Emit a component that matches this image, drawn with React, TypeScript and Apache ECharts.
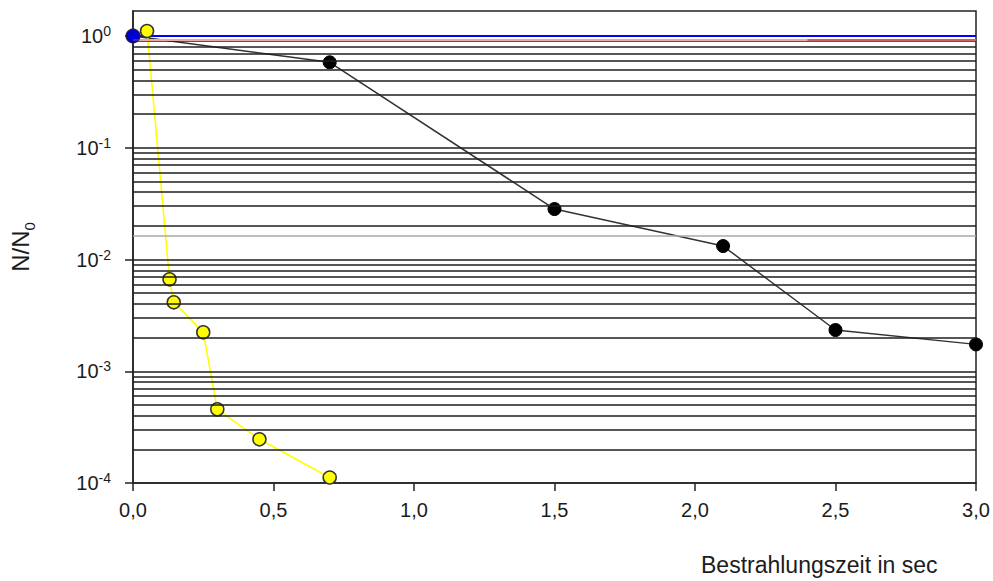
import React, { useEffect, useRef } from "react";
import * as echarts from "echarts";

// ---- data ----
const blackX = [0, 0.7, 1.5, 2.1, 2.5, 3.0];
const blackY = [1, 0.582, 0.0283, 0.0132, 0.00234, 0.00174];

const yellowX = [0.05, 0.13, 0.145, 0.25, 0.3, 0.45, 0.7];
const yellowY = [1.11, 0.00665, 0.00414, 0.00223, 0.000456, 0.000246, 0.000112];

const blueX = [0, 3.0];
const blueY = [1, 1];

const xTickValues = [0, 0.5, 1.0, 1.5, 2.0, 2.5, 3.0];
const yTickValues = [1e-4, 1e-3, 1e-2, 1e-1, 1];
const gridDecades = [-4, -3, -2, -1];
const gridMantissas = [1, 2, 3, 4, 5, 6, 7, 8, 9];
const redLineValue = 0.935;
const grayLineValue = 0.0162;

const FONT = '"Liberation Sans", Arial, sans-serif';
const TXT = "#1c1c1c";

export default function App() {
  const ref = useRef<HTMLDivElement>(null);
  useEffect(() => {
    const chart = echarts.init(ref.current!, null, { renderer: "svg" });

    const gridValues: number[] = [];
    gridDecades.forEach((d) =>
      gridMantissas.forEach((m) => {
        const v = m * Math.pow(10, d);
        if (Math.abs(v - 1e-4) > 1e-9) gridValues.push(v);
      })
    );

    const hLine = (v: number, style?: any) => [
      { coord: [0, v], ...(style ? { lineStyle: style } : {}) },
      { coord: [3, v] },
    ];

    const option: any = {
      animation: false,
      grid: {
        left: 130,
        right: 17,
        top: 11,
        bottom: 98,
        show: true,
        borderColor: "#222",
        borderWidth: 1.5,
        backgroundColor: "transparent",
      },
      xAxis: {
        type: "value",
        min: 0,
        max: 3,
        interval: 0.5,
        axisLine: { show: true, lineStyle: { color: "#222", width: 1.5 } },
        axisTick: { show: true, length: 8, lineStyle: { color: "#222", width: 1.5 } },
        splitLine: { show: false },
        axisLabel: {
          margin: 17,
          fontSize: 20,
          fontFamily: FONT,
          color: TXT,
          formatter: (v: number) =>
            xTickValues.some((t) => Math.abs(t - v) < 1e-9) ? v.toFixed(1).replace(".", ",") : "",
        },
      },
      yAxis: {
        type: "log",
        logBase: 10,
        min: 1e-4,
        max: 1.675,
        name: "{a|N/N}{b|0}",
        nameLocation: "middle",
        nameRotate: 90,
        nameGap: 96,
        nameTextStyle: {
          rich: {
            a: { fontSize: 24, fontFamily: FONT, color: TXT, lineHeight: 34 },
            b: { fontSize: 15, fontFamily: FONT, color: TXT, verticalAlign: "bottom", lineHeight: 15 },
          },
        },
        axisLine: { show: true, lineStyle: { color: "#222", width: 1.5 } },
        axisTick: {
          show: true,
          length: 8,
          lineStyle: { color: "#222", width: 1.5 },
          customValues: yTickValues,
        },
        splitLine: { show: false },
        axisLabel: {
          margin: 22,
          customValues: yTickValues,
          formatter: (v: number) => {
            const l = Math.log10(v);
            const e = Math.round(l);
            if (Math.abs(l - e) > 1e-6) return "";
            return `{b|10}{s|${e}}`;
          },
          rich: {
            b: { fontSize: 20, fontFamily: FONT, color: TXT, lineHeight: 24 },
            s: { fontSize: 14, fontFamily: FONT, color: TXT, verticalAlign: "top", lineHeight: 14 },
          },
        },
      },
      graphic: [
        {
          type: "text",
          left: 701,
          top: 553,
          style: { text: "Bestrahlungszeit in sec", font: `23px ${FONT}`, fill: TXT },
        },
      ],
      series: [
        {
          name: "grid",
          type: "line",
          data: [],
          z: 1,
          silent: true,
          markLine: {
            silent: true,
            precision: 10,
            symbol: "none",
            label: { show: false },
            lineStyle: { color: "#1e1e1e", width: 1.5, type: "solid" },
            data: [
              ...gridValues.map((v) => hLine(v)),
              hLine(grayLineValue, { color: "#a8a8a8", width: 1.6, type: "solid" }),
              hLine(redLineValue, { color: "#eaa8a8", width: 1.8, type: "solid" }),
              [
                { coord: [2.4, redLineValue], lineStyle: { color: "#d26060", width: 1.8, type: "solid" } },
                { coord: [3.0, redLineValue] },
              ],
            ],
          },
        },
        {
          name: "blue line",
          type: "line",
          z: 2,
          data: blueX.map((x, i) => [x, blueY[i]]),
          showSymbol: false,
          lineStyle: { color: "#0000ff", width: 2 },
        },
        {
          name: "black",
          type: "line",
          z: 3,
          data: blackX.map((x, i) => [x, blackY[i]]),
          symbol: "circle",
          symbolSize: 13,
          lineStyle: { color: "#333", width: 1.5 },
          itemStyle: { color: "#000", borderColor: "#000", borderWidth: 1 },
        },
        {
          name: "yellow",
          type: "line",
          z: 4,
          data: yellowX.map((x, i) => [x, yellowY[i]]),
          symbol: "circle",
          symbolSize: 13,
          lineStyle: { color: "#ffff00", width: 1.6 },
          itemStyle: { color: "#ffff00", borderColor: "#333", borderWidth: 1.5 },
        },
        {
          name: "blue point",
          type: "scatter",
          z: 5,
          data: [[blueX[0], blueY[0]]],
          symbol: "circle",
          symbolSize: 14,
          itemStyle: { color: "#0000ff", borderColor: "#222", borderWidth: 1.2 },
        },
      ],
    };

    chart.setOption(option);
    return () => chart.dispose();
  }, []);

  return (
    <div
      ref={ref}
      style={{ position: "fixed", left: 0, top: 0, width: 993, height: 581, background: "#fff" }}
    />
  );
}
